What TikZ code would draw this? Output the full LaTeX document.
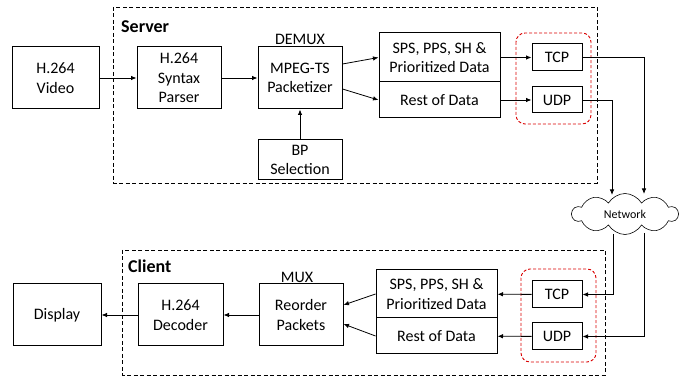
\documentclass[tikz,border=0pt]{standalone}
\usepackage{fontspec}
\setmainfont{Carlito}
\usetikzlibrary{arrows.meta,shapes.symbols}
\begin{document}
\begin{tikzpicture}[x=1pt,y=-1pt,
  every node/.style={font=\fontsize{16}{19.5}\selectfont},
  blk/.style={draw,line width=1pt,inner sep=0pt,align=center},
  arr/.style={line width=0.8pt,-{Latex[length=5.5pt,width=4.5pt]}},
  group/.style={draw,line width=0.9pt,dash pattern=on 4pt off 2.5pt},
  grouptitle/.style={inner sep=0pt,anchor=west,font=\fontsize{18}{21}\selectfont\bfseries},
  redgroup/.style={draw=red!85!black,line width=0.9pt,dash pattern=on 3pt off 2pt,rounded corners=9pt},
  lbl/.style={inner sep=0pt}]
\useasboundingbox (0,0) rectangle (686,379);

% Server side
\draw[group] (113,7) rectangle (597,183);
\node[grouptitle] (srv) at (121,27) {Server};
\node[blk,minimum width=87pt,minimum height=62pt] (vid) at (55.5,78) {H.264\\Video};
\node[blk,minimum width=84pt,minimum height=62pt] (parser) at (179,78) {H.264\\Syntax\\Parser};
\node[blk,minimum width=84pt,minimum height=62pt] (mpeg) at (300,78) {MPEG-TS\\Packetizer};
\node[lbl] (demux) at (300,39) {DEMUX};
\node[blk,minimum width=84pt,minimum height=40pt] (bp) at (300,160) {BP\\Selection};
\node[blk,minimum width=121pt,minimum height=49pt] (sps) at (439.5,57.5) {SPS, PPS, SH \&\\Prioritized Data};
\node[blk,minimum width=121pt,minimum height=36pt] (rest) at (439.5,100) {Rest of Data};
\draw[redgroup] (516,33) rectangle (591,124);
\node[blk,minimum width=50pt,minimum height=27pt] (tcp) at (557,57.5) {TCP};
\node[blk,minimum width=50pt,minimum height=26pt] (udp) at (557,100) {UDP};

\draw[arr] (vid) -- (parser);
\draw[arr] (parser) -- (mpeg);
\draw[arr] (bp) -- (mpeg);
\draw[arr] ([yshift=14pt]mpeg.east) -- (sps.west);
\draw[arr] ([yshift=-11pt]mpeg.east) -- (rest.west);
\draw[arr] (sps) -- (tcp);
\draw[arr] (rest) -- (udp);

% Network
\node[cloud,draw,line width=0.6pt,cloud puffs=10,cloud puff arc=120,aspect=2.7,
      minimum width=106pt,minimum height=41pt,inner sep=0pt,
      font=\fontsize{12}{14}\selectfont] (net) at (625,214) {Network};
\coordinate (tcpin) at (644,194);
\coordinate (udpin) at (612,195);
\coordinate (tcpout) at (613,234);
\coordinate (udpout) at (644,233);
\draw[arr] (tcp.east) -| (tcpin);
\draw[arr] (udp.east) -| (udpin);

% Client side
\draw[group] (122,250) rectangle (605,375);
\node[grouptitle] (cli) at (128,266) {Client};
\node[blk,minimum width=88pt,minimum height=62pt] (disp) at (57,315) {Display};
\node[blk,minimum width=85pt,minimum height=62pt] (dec) at (180.5,315) {H.264\\Decoder};
\node[blk,minimum width=84pt,minimum height=62pt] (reo) at (301,315) {Reorder\\Packets};
\node[lbl] (mux) at (297,277) {MUX};
\node[blk,minimum width=121pt,minimum height=48pt] (csps) at (436.5,294) {SPS, PPS, SH \&\\Prioritized Data};
\node[blk,minimum width=121pt,minimum height=36pt] (crest) at (436.5,336) {Rest of Data};
\draw[redgroup] (521,269) rectangle (596,362);
\node[blk,minimum width=50pt,minimum height=27pt] (ctcp) at (557,294.5) {TCP};
\node[blk,minimum width=50pt,minimum height=27pt] (cudp) at (557,336.5) {UDP};

\draw[arr] (tcpout) |- (ctcp.east);
\draw[arr] (udpout) |- (cudp.east);
\draw[arr] (ctcp) -- (csps);
\draw[arr] (cudp) -- (crest);
\draw[arr] (csps.west) -- ([yshift=10pt]reo.east);
\draw[arr] (crest.west) -- ([yshift=-9pt]reo.east);
\draw[arr] (reo) -- (dec);
\draw[arr] (dec) -- (disp);
\end{tikzpicture}
\end{document}
